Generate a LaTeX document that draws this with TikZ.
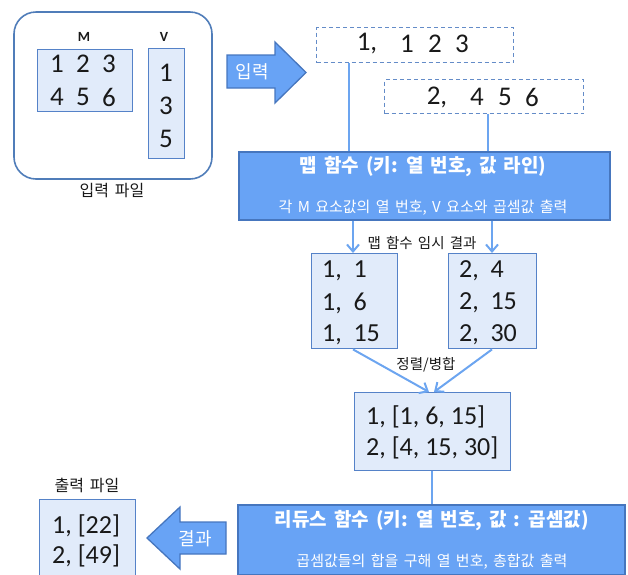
\documentclass[tikz,border=0pt]{standalone}
\usepackage{fontspec}
\setmainfont{Carlito}
\newfontfamily\kr[WordSpace=1.6]{Noto Sans CJK KR}
\usetikzlibrary{arrows.meta}
\definecolor{lineblue}{RGB}{108,165,240}
\definecolor{mapfill}{RGB}{104,163,245}
\definecolor{mapdraw}{RGB}{70,118,190}
\definecolor{lightfill}{RGB}{225,235,250}
\definecolor{lightdraw}{RGB}{85,130,200}
\definecolor{framedraw}{RGB}{80,125,185}
\definecolor{dashdraw}{RGB}{100,140,200}
\definecolor{txt}{RGB}{25,25,25}
\tikzset{
  lightbox/.style={draw=lightdraw, fill=lightfill, line width=1.4pt},
  mapbox/.style={draw=mapdraw, fill=mapfill, line width=1.6pt},
  dashbox/.style={draw=dashdraw, dashed, line width=1.1pt, dash pattern=on 4pt off 3pt},
  num/.style={font=\fontsize{27}{27}\selectfont, text=txt, inner sep=0pt},
  numl/.style={num, font=\fontsize{26}{26}\selectfont, anchor=west},
  lbl/.style={font=\kr\fontsize{14.5}{14.5}\selectfont, text=txt, inner sep=0pt},
  wtitle/.style={font=\kr\bfseries\fontsize{19}{19}\selectfont, text=white, inner sep=0pt},
  wsub/.style={font=\kr\fontsize{15}{15}\selectfont, text=white, inner sep=0pt},
  conn/.style={draw=lineblue, line width=2pt},
  arr/.style={conn, -{Straight Barb[length=7pt,width=12pt,line width=2pt]}},
  blockarrow/.style={draw=mapdraw, fill=mapfill, line width=1.3pt, line join=miter},
}
\newcommand{\gap}{\hspace{0.45em}}
\begin{document}
\begin{tikzpicture}[x=1pt,y=-1pt]
\useasboundingbox (0,0) rectangle (628,574);
% input file frame
\draw[draw=framedraw, line width=1.6pt, rounded corners=22pt] (14,12) rectangle (212,179);
\node[font=\bfseries\fontsize{14}{14}\selectfont, text=txt, inner sep=0pt] (mlabel) at (84,37) {M};
\node[font=\bfseries\fontsize{14}{14}\selectfont, text=txt, inner sep=0pt] (vlabel) at (164,37) {V};
\node[lightbox, anchor=north west, minimum width=95pt, minimum height=62pt] (mbox) at (37,49) {};
\node[num] (m1) at (57,64) {1};
\node[num] (m2) at (83,64) {2};
\node[num] (m3) at (109,64) {3};
\node[num] (m4) at (57,97) {4};
\node[num] (m5) at (83,97) {5};
\node[num] (m6) at (109,97) {6};
\node[lightbox, anchor=north west, minimum width=36pt, minimum height=110pt] (vbox) at (148,48) {};
\node[num] (v1) at (166,73) {1};
\node[num] (v2) at (166,106) {3};
\node[num] (v3) at (166,139) {5};
\node[lbl, font=\kr\fontsize{16}{16}\selectfont] (inlabel) at (112,191) {입력 파일};
% input block arrow
\draw[blockarrow] (227,55) -- (275,55) -- (275,42) -- (306,72.5) -- (275,103) -- (275,88) -- (227,88) -- cycle;
\node[wsub, font=\kr\fontsize{18}{18}\selectfont] (inarrow) at (252,72) {입력};
% dashed input lines
\node[dashbox, anchor=north west, minimum width=197pt, minimum height=35pt] (d1) at (316,27) {};
\node[num] (d1a) at (367,44) {1,};
\node[num] (d1b) at (407,44) {1};
\node[num] (d1c) at (435,44) {2};
\node[num] (d1d) at (462,44) {3};
\node[dashbox, anchor=north west, minimum width=199pt, minimum height=34pt] (d2) at (384,79) {};
\node[num] (d2a) at (437,97) {2,};
\node[num] (d2b) at (477,97) {4};
\node[num] (d2c) at (505,97) {5};
\node[num] (d2d) at (532,97) {6};
% map box
\node[mapbox, anchor=north west, minimum width=371pt, minimum height=68pt] (map) at (238,151) {};
\node[wtitle] (maptitle) at (423,167) {맵 함수 (키: 열 번호, 값 라인)};
\node[wsub] (mapsub) at (423,208) {각 M 요소값의 열 번호, V 요소와 곱셈값 출력};
\draw[conn] (d1.south -| 349,0) -- (map.north -| 349,0);
\draw[conn] (d2.south -| 488,0) -- (map.north -| 488,0);
% temp results
\node[lightbox, anchor=north west, minimum width=86pt, minimum height=95pt] (lbox) at (311,253) {};
\node[numl] (l1) at (322,271) {1,\gap 1};
\node[numl] (l2) at (322,303) {1,\gap 6};
\node[numl] (l3) at (322,335) {1,\gap 15};
\node[lightbox, anchor=north west, minimum width=88pt, minimum height=95pt] (rbox) at (448,253) {};
\node[numl] (r1) at (459,271) {2,\gap 4};
\node[numl] (r2) at (459,303) {2,\gap 15};
\node[numl] (r3) at (459,335) {2,\gap 30};
\draw[arr] (map.south -| 353,0) -- (lbox.north -| 353,0);
\draw[arr] (map.south -| 492,0) -- (rbox.north -| 492,0);
\node[lbl] (tmplabel) at (422,243) {맵 함수 임시 결과};
% merged
\node[lightbox, anchor=north west, minimum width=156pt, minimum height=78pt] (merged) at (354,392) {};
\node[numl] (g1) at (366,417) {1, [1, 6, 15]};
\node[numl] (g2) at (366,448) {2, [4, 15, 30]};
\coordinate (mtl) at (429,392);
\coordinate (mtr) at (434,392);
\draw[arr] (lbox.south -| 353,0) -- (mtl);
\draw[arr] (rbox.south -| 492,0) -- (mtr);
\node[lbl] (sortlabel) at (426,365) {정렬/병합};
% reduce
\node[mapbox, anchor=north west, minimum width=387pt, minimum height=70pt] (reduce) at (237,504) {};
\node[wtitle] (redtitle) at (432,521) {리듀스 함수 (키: 열 번호, 값 : 곱셈값)};
\node[wsub] (redsub) at (432,562) {곱셈값들의 합을 구해 열 번호, 총합값 출력};
\draw[conn] (merged.south -| 432,0) -- (reduce.north -| 432,0);
% output
\node[lbl, font=\kr\fontsize{16}{16}\selectfont] (outlabel) at (87,485) {출력 파일};
\node[lightbox, anchor=north west, minimum width=96pt, minimum height=78pt] (out) at (39,499) {};
\node[numl] (o1) at (52,526) {1, [22]};
\node[numl] (o2) at (52,556) {2, [49]};
\draw[blockarrow] (226,522) -- (180,522) -- (180,507) -- (147,538) -- (180,569) -- (180,554) -- (226,554) -- cycle;
\node[wsub, font=\kr\fontsize{18}{18}\selectfont] (resarrow) at (195,539) {결과};
\end{tikzpicture}
\end{document}
